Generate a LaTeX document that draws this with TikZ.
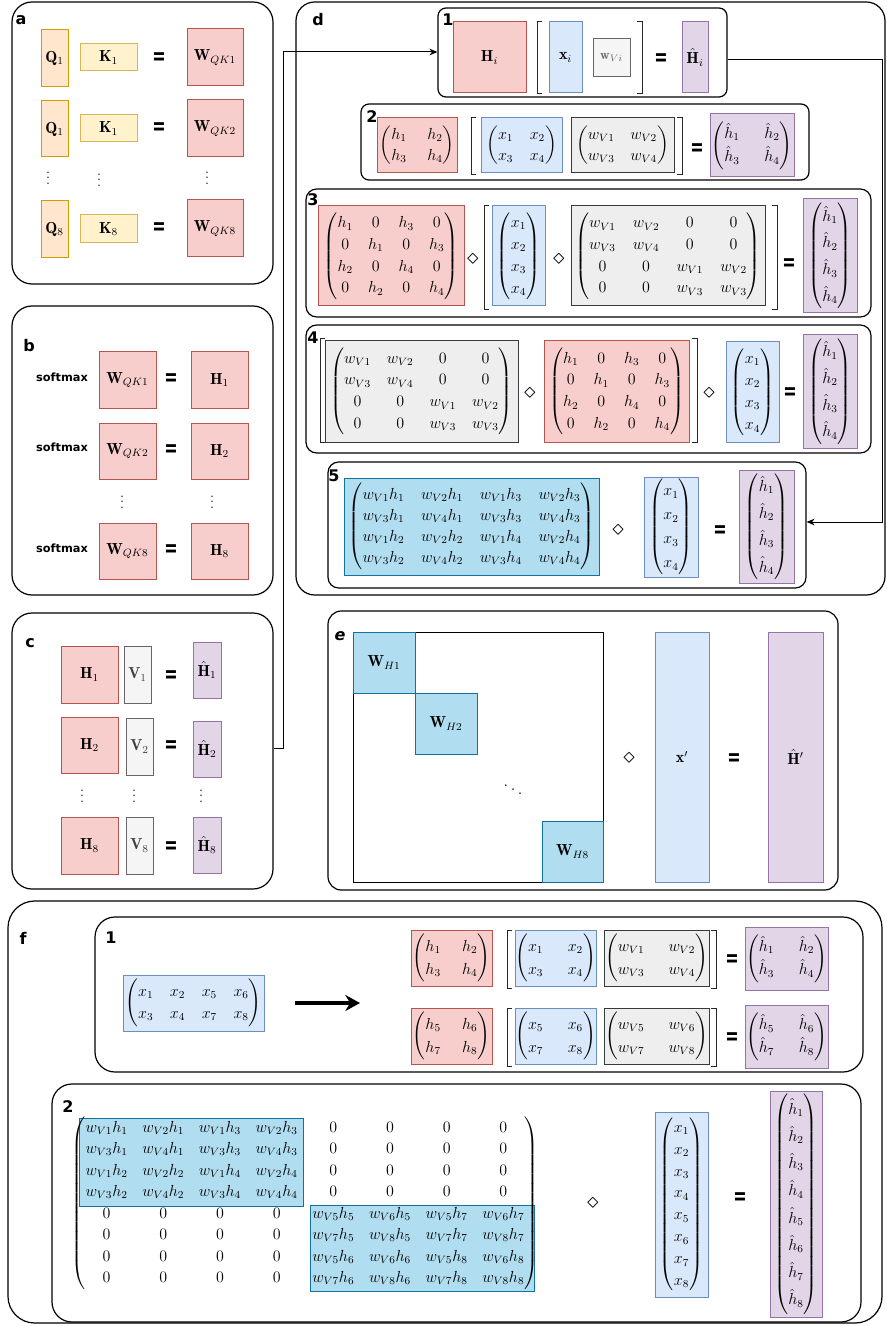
\documentclass[tikz,border=0pt]{standalone}
\usepackage{amsmath}
\usepackage{fontspec}
\newfontfamily\lblfont{DejaVu Sans}
\usetikzlibrary{fit,arrows.meta}
\definecolor{redF}{HTML}{F8CECC}\definecolor{redD}{HTML}{B85450}
\definecolor{oraF}{HTML}{FFE6CC}\definecolor{oraD}{HTML}{D79B00}
\definecolor{yelF}{HTML}{FFF2CC}\definecolor{yelD}{HTML}{D6B656}
\definecolor{bluF}{HTML}{DAE8FC}\definecolor{bluD}{HTML}{6C8EBF}
\definecolor{graF}{HTML}{F5F5F5}\definecolor{graD}{HTML}{666666}
\definecolor{gmF}{HTML}{EEEEEE}\definecolor{gmD}{HTML}{36393D}
\definecolor{purF}{HTML}{E1D5E7}\definecolor{purD}{HTML}{9673A6}
\definecolor{teaF}{HTML}{B1DDF0}\definecolor{teaD}{HTML}{10739E}
\newcommand\Pn[6]{\node[panel,rounded corners=#2,fit={(#3,#4)(#5,#6)},inner sep=0pt] (#1) {};}
\newcommand\Bx[7]{\node[#2,inner sep=0pt,minimum width={(#5-#3)*0.75pt},minimum height={(#6-#4)*0.75pt}] (#1) at ({(#3+#5)/2},{(#4+#6)/2}) {#7};}
\newcommand\Eq[3]{\node[eqsign] (#1) at (#2,#3) {\scalebox{0.75}[1.15]{=}};}
\newcommand\Dm[3]{\node[dm] (#1) at (#2,#3) {$\diamond$};}
\newcommand\Lbrk[3]{\draw[brk] ({#1+5},#2) -- (#1,#2) -- (#1,#3) -- ({#1+5},#3);}
\newcommand\Rbrk[3]{\draw[brk] ({#1-5},#2) -- (#1,#2) -- (#1,#3) -- ({#1-5},#3);}
\newcommand\Mx[3]{{\setlength\arraycolsep{#1pt}\renewcommand\arraystretch{#2}$\begin{pmatrix}#3\end{pmatrix}$}}
\newcommand\Vd[3]{\node[vd] (#1) at (#2,#3) {$\vdots$};}
\begin{document}
\begin{tikzpicture}[x=0.75pt,y=-0.75pt,
 every node/.style={font=\fontsize{12}{14.4}\selectfont},
 panel/.style={draw=black,line width=0.9pt},
 box/.style={line width=0.75pt},
 redb/.style={box,draw=redD,fill=redF},
 orab/.style={box,draw=oraD,fill=oraF},
 yelb/.style={box,draw=yelD,fill=yelF},
 blub/.style={box,draw=bluD,fill=bluF},
 grab/.style={box,draw=graD,fill=graF},
 gmb/.style={box,draw=gmD,fill=gmF},
 purb/.style={box,draw=purD,fill=purF},
 teab/.style={box,draw=teaD,fill=teaF},
 plainb/.style={box,draw=black},
 txt/.style={inner sep=0pt},
 vd/.style={inner sep=0pt,font=\fontsize{11}{12}\selectfont},
 lbl/.style={font=\lblfont\bfseries\fontsize{12}{12}\selectfont,inner sep=0pt},
 sm/.style={font=\lblfont\bfseries\fontsize{8.5}{10}\selectfont,inner sep=0pt},
 eqsign/.style={font=\lblfont\bfseries\fontsize{16}{16}\selectfont,inner sep=0pt},
 dm/.style={font=\fontsize{16}{16}\selectfont,inner sep=0pt},
 brk/.style={draw=black!85,line width=0.75pt},
 conn/.style={draw=black,line width=0.75pt,-{Stealth[length=6pt,width=5pt]}},
 bigarrow/.style={draw=black,line width=2.5pt,-{Stealth[length=11pt,width=12pt]}},
]
\useasboundingbox (0,0) rectangle (886,1326);

% ---------------- panel a
\Pn{pa}{15pt}{12}{2}{273}{284}
\node[lbl] (la) at (21,20) {a};
\Bx{aq1}{orab}{41}{30}{68}{87}{$\mathbf{Q}_1$}
\Bx{ak1}{yelb}{80}{44}{137}{71}{$\mathbf{K}_1$}
\Eq{ae1}{159}{59}
\Bx{aw1}{redb}{187}{29}{243}{86}{$\mathbf{W}_{QK1}$}
\Bx{aq2}{orab}{41}{101}{68}{157}{$\mathbf{Q}_1$}
\Bx{ak2}{yelb}{80}{115}{137}{142}{$\mathbf{K}_1$}
\Eq{ae2}{159}{129}
\Bx{aw2}{redb}{187}{100}{243}{157}{$\mathbf{W}_{QK2}$}
\Vd{ad1}{48}{174}\Vd{ad2}{99}{176}\Vd{ad3}{207}{174}
\Bx{aq3}{orab}{41}{201}{68}{258}{$\mathbf{Q}_8$}
\Bx{ak3}{yelb}{80}{215}{137}{243}{$\mathbf{K}_8$}
\Eq{ae3}{159}{229}
\Bx{aw3}{redb}{187}{200}{243}{257}{$\mathbf{W}_{QK8}$}

% ---------------- panel b
\Pn{pb}{15pt}{12}{306}{273}{595}
\node[lbl] (lb) at (29,346) {b};
\node[sm] (bs1) at (62,377) {softmax};
\node[sm] (bs2) at (62,447) {softmax};
\node[sm] (bs3) at (62,548) {softmax};
\Bx{bw1}{redb}{99}{352}{156}{408}{$\mathbf{W}_{QK1}$}
\Eq{be1}{171}{380}
\Bx{bh1}{redb}{191}{352}{248}{408}{$\mathbf{H}_1$}
\Bx{bw2}{redb}{99}{423}{156}{479}{$\mathbf{W}_{QK2}$}
\Eq{be2}{171}{451}
\Bx{bh2}{redb}{191}{423}{248}{479}{$\mathbf{H}_2$}
\Vd{bd1}{122}{498}\Vd{bd2}{212}{498}
\Bx{bw3}{redb}{99}{523}{156}{579}{$\mathbf{W}_{QK8}$}
\Eq{be3}{171}{551}
\Bx{bh3}{redb}{191}{523}{248}{579}{$\mathbf{H}_8$}

% ---------------- panel c
\Pn{pc}{15pt}{12}{613}{273}{889}
\node[lbl] (lc) at (30,643) {c};
\Bx{ch1}{redb}{61}{646}{118}{703}{$\mathbf{H}_1$}
\Bx{cv1}{grab}{124}{646}{151}{703}{\color{black!75}$\mathbf{V}_1$}
\Eq{ce1}{171}{677}
\Bx{ct1}{purb}{193}{642}{221}{698}{$\hat{\mathbf{H}}_1$}
\Bx{ch2}{redb}{61}{717}{118}{773}{$\mathbf{H}_2$}
\Bx{cv2}{grab}{126}{718}{153}{775}{\color{black!75}$\mathbf{V}_2$}
\Eq{ce2}{171}{747}
\Bx{ct2}{purb}{193}{721}{221}{777}{$\hat{\mathbf{H}}_2$}
\Vd{cd1}{82}{792}\Vd{cd2}{134}{792}\Vd{cd3}{201}{792}
\Bx{ch3}{redb}{61}{817}{118}{874}{$\mathbf{H}_8$}
\Bx{cv3}{grab}{126}{817}{153}{874}{\color{black!75}$\mathbf{V}_8$}
\Eq{ce3}{171}{848}
\Bx{ct3}{purb}{193}{817}{221}{873}{$\hat{\mathbf{H}}_8$}

% ---------------- panel d
\Pn{pd}{14pt}{296}{2}{885}{595}
\node[lbl] (ld) at (318,20) {d};
% d1
\Pn{d1}{6pt}{438}{8}{727}{97}
\node[lbl] (l1) at (448,20) {1};
\Bx{d1h}{redb}{453}{22}{526}{93}{$\mathbf{H}_i$}
\Lbrk{537}{22}{94}
\Bx{d1x}{blub}{549}{22}{582}{93}{$\mathbf{x}_i$}
\Bx{d1w}{grab}{593}{39}{630}{77}{\color{black!60}\fontsize{10}{12}\selectfont$\mathbf{w}_{Vi}$}
\Rbrk{642}{22}{94}
\Eq{d1e}{661}{60}
\Bx{d1t}{purb}{682}{22}{708}{93}{$\hat{\mathbf{H}}_i$}
% d2
\Pn{d2}{6pt}{361}{104}{809}{180}
\node[lbl] (l2) at (372,117) {2};
\Bx{d2h}{redb}{377}{118}{457}{173}{\Mx{7.7}{1.09}{h_1 & h_2\\ h_3 & h_4}}
\Lbrk{471}{118}{175}
\Bx{d2x}{blub}{481}{118}{562}{173}{\Mx{6.2}{1.09}{x_1 & x_2\\ x_3 & x_4}}
\Bx{d2w}{gmb}{571}{118}{674}{173}{\Mx{5.9}{1.09}{w_{V1} & w_{V2}\\ w_{V3} & w_{V4}}}
\Rbrk{682}{118}{175}
\Eq{d2e}{697}{150}
\Bx{d2t}{purb}{710}{114}{794}{177}{\Mx{9.2}{1.2}{\hat{h}_1 & \hat{h}_2\\ \hat{h}_3 & \hat{h}_4}}
% d3
\Pn{d3}{8pt}{306}{189}{871}{317}
\node[lbl] (l3) at (313,200) {3};
\Bx{d3h}{redb}{318}{206}{464}{306}{\Mx{5.7}{1.13}{h_1&0&h_3&0\\0&h_1&0&h_3\\h_2&0&h_4&0\\0&h_2&0&h_4}}
\Dm{d3m1}{473}{259}
\Lbrk{484}{206}{310}
\Bx{d3x}{blub}{492}{206}{545}{306}{\Mx{6}{1.15}{x_1\\x_2\\x_3\\x_4}}
\Dm{d3m2}{559}{259}
\Bx{d3w}{gmb}{571}{206}{765}{306}{\Mx{6.4}{1.13}{w_{V1}&w_{V2}&0&0\\w_{V3}&w_{V4}&0&0\\0&0&w_{V1}&w_{V2}\\0&0&w_{V3}&w_{V3}}}
\Rbrk{777}{206}{310}
\Eq{d3e}{789}{265}
\Bx{d3t}{purb}{803}{199}{857}{313}{\Mx{6}{1.39}{\hat{h}_1\\\hat{h}_2\\\hat{h}_3\\\hat{h}_4}}
% d4
\Pn{d4}{8pt}{306}{325}{871}{453}
\node[lbl] (l4) at (313,338) {4};
\Lbrk{320}{339}{442}
\Bx{d4w}{gmb}{325}{341}{518}{442}{\Mx{6}{1.13}{w_{V1}&w_{V2}&0&0\\w_{V3}&w_{V4}&0&0\\0&0&w_{V1}&w_{V2}\\0&0&w_{V3}&w_{V3}}}
\Dm{d4m1}{530}{393}
\Bx{d4h}{redb}{544}{341}{689}{442}{\Mx{5.7}{1.13}{h_1&0&h_3&0\\0&h_1&0&h_3\\h_2&0&h_4&0\\0&h_2&0&h_4}}
\Rbrk{697}{339}{442}
\Dm{d4m2}{709}{393}
\Bx{d4x}{blub}{726}{342}{779}{442}{\Mx{6}{1.16}{x_1\\x_2\\x_3\\x_4}}
\Eq{d4e}{790}{394}
\Bx{d4t}{purb}{803}{335}{857}{448}{\Mx{6}{1.39}{\hat{h}_1\\\hat{h}_2\\\hat{h}_3\\\hat{h}_4}}
% d5
\Pn{d5}{8pt}{328}{462}{806}{588}
\node[lbl] (l5) at (334,476) {5};
\Bx{d5w}{teab}{344}{478}{599}{575}{\Mx{6.25}{1.1}{w_{V1}h_1 & w_{V2}h_1 & w_{V1}h_3 & w_{V2}h_3\\ w_{V3}h_1 & w_{V4}h_1 & w_{V3}h_3 & w_{V4}h_3\\ w_{V1}h_2 & w_{V2}h_2 & w_{V1}h_4 & w_{V2}h_4\\ w_{V3}h_2 & w_{V4}h_2 & w_{V3}h_4 & w_{V4}h_4}}
\Dm{d5m}{618}{530}
\Bx{d5x}{blub}{644}{477}{698}{577}{\Mx{6}{1.25}{x_1\\x_2\\x_3\\x_4}}
\Eq{d5e}{720}{532}
\Bx{d5t}{purb}{739}{470}{794}{583}{\Mx{6}{1.4}{\hat{h}_1\\\hat{h}_2\\\hat{h}_3\\\hat{h}_4}}
% connectors
\coordinate (j1) at (283,748);
\coordinate (j2) at (283,52);
\draw[conn] (pc.east |- j1) -- (j1) -- (j2) -- (d1.west |- j2);
\coordinate (k1) at (882,60);
\coordinate (k2) at (882,522);
\draw[conn] (d1.east |- k1) -- (k1) -- (k2) -- (d5.east |- k2);

% ---------------- panel e
\Pn{pe}{10pt}{328}{611}{838}{890}
\node[lbl] (le) at (340,636) {\itshape e};
\node[plainb,fit={(353,632)(603,882)},inner sep=0pt] (esq) {};
\Bx{ew1}{teab}{353}{632}{415}{693}{$\mathbf{W}_{H1}$}
\Bx{ew2}{teab}{415}{693}{477}{754}{$\mathbf{W}_{H2}$}
\node[txt,font=\fontsize{15}{16}\selectfont] (edd) at (513,786) {$\ddots$};
\Bx{ew8}{teab}{542}{821}{603}{882}{$\mathbf{W}_{H8}$}
\Dm{em}{629}{758}
\Bx{ex}{blub}{655}{632}{709}{882}{$\mathbf{x}'$}
\Eq{ee}{734}{760}
\Bx{et}{purb}{768}{632}{823}{882}{$\hat{\mathbf{H}}'$}

% ---------------- panel f
\Pn{pf}{20pt}{8}{901}{882}{1323}
\node[lbl] (lf) at (23,938) {f};
% f1
\Pn{f1}{15pt}{95}{917}{863}{1072}
\node[lbl] (lf1) at (111,938) {1};
\Bx{f1in}{blub}{123}{975}{264}{1031}{\Mx{6.2}{1.15}{x_1&x_2&x_5&x_6\\x_3&x_4&x_7&x_8}}
\coordinate (fa1) at (295,1003);
\coordinate (fa2) at (360,1003);
\draw[bigarrow] (fa1) -- (fa2);
\Bx{f1h1}{redb}{411}{930}{492}{986}{\Mx{8}{1.2}{h_1&h_2\\h_3&h_4}}
\Lbrk{507}{930}{988}
\Bx{f1x1}{blub}{515}{930}{596}{986}{\Mx{9.2}{1.2}{x_1&x_2\\x_3&x_4}}
\Bx{f1w1}{gmb}{604}{930}{709}{986}{\Mx{9}{1.2}{w_{V1}&w_{V2}\\w_{V3}&w_{V4}}}
\Rbrk{716}{930}{988}
\Eq{f1e1}{732}{961}
\Bx{f1t1}{purb}{745}{927}{828}{990}{\Mx{9.2}{1.2}{\hat{h}_1&\hat{h}_2\\\hat{h}_3&\hat{h}_4}}
\Bx{f1h2}{redb}{411}{1008}{492}{1064}{\Mx{8}{1.2}{h_5&h_6\\h_7&h_8}}
\Lbrk{507}{1008}{1066}
\Bx{f1x2}{blub}{515}{1008}{596}{1064}{\Mx{9.2}{1.2}{x_5&x_6\\x_7&x_8}}
\Bx{f1w2}{gmb}{604}{1008}{709}{1064}{\Mx{9}{1.2}{w_{V5}&w_{V6}\\w_{V7}&w_{V8}}}
\Rbrk{716}{1008}{1066}
\Eq{f1e2}{732}{1039}
\Bx{f1t2}{purb}{745}{1005}{828}{1068}{\Mx{9.2}{1.2}{\hat{h}_5&\hat{h}_6\\\hat{h}_7&\hat{h}_8}}
% f2
\Pn{f2}{15pt}{52}{1084}{861}{1322}
\node[lbl] (lf2) at (68,1107) {2};
\node[teab,fit={(79,1118)(303,1206)},inner sep=0pt] (fb1) {};
\node[teab,fit={(310,1205)(534,1291)},inner sep=0pt] (fb2) {};
\node[txt] (fbig) at (305,1203) {\Mx{5.5}{1.12}{
w_{V1}h_1 & w_{V2}h_1 & w_{V1}h_3 & w_{V2}h_3 & 0&0&0&0\\
w_{V3}h_1 & w_{V4}h_1 & w_{V3}h_3 & w_{V4}h_3 & 0&0&0&0\\
w_{V1}h_2 & w_{V2}h_2 & w_{V1}h_4 & w_{V2}h_4 & 0&0&0&0\\
w_{V3}h_2 & w_{V4}h_2 & w_{V3}h_4 & w_{V4}h_4 & 0&0&0&0\\
0&0&0&0 & w_{V5}h_5 & w_{V6}h_5 & w_{V5}h_7 & w_{V6}h_7\\
0&0&0&0 & w_{V7}h_5 & w_{V8}h_5 & w_{V7}h_7 & w_{V8}h_7\\
0&0&0&0 & w_{V5}h_6 & w_{V6}h_6 & w_{V5}h_8 & w_{V6}h_8\\
0&0&0&0 & w_{V7}h_6 & w_{V8}h_6 & w_{V7}h_8 & w_{V8}h_8}};
\Dm{f2m}{593}{1203}
\Bx{f2x}{blub}{655}{1112}{708}{1297}{\Mx{6}{1.14}{x_1\\x_2\\x_3\\x_4\\x_5\\x_6\\x_7\\x_8}}
\Eq{f2e}{740}{1199}
\Bx{f2t}{purb}{770}{1091}{822}{1317}{\Mx{6}{1.42}{\hat{h}_1\\\hat{h}_2\\\hat{h}_3\\\hat{h}_4\\\hat{h}_5\\\hat{h}_6\\\hat{h}_7\\\hat{h}_8}}
\end{tikzpicture}
\end{document}
